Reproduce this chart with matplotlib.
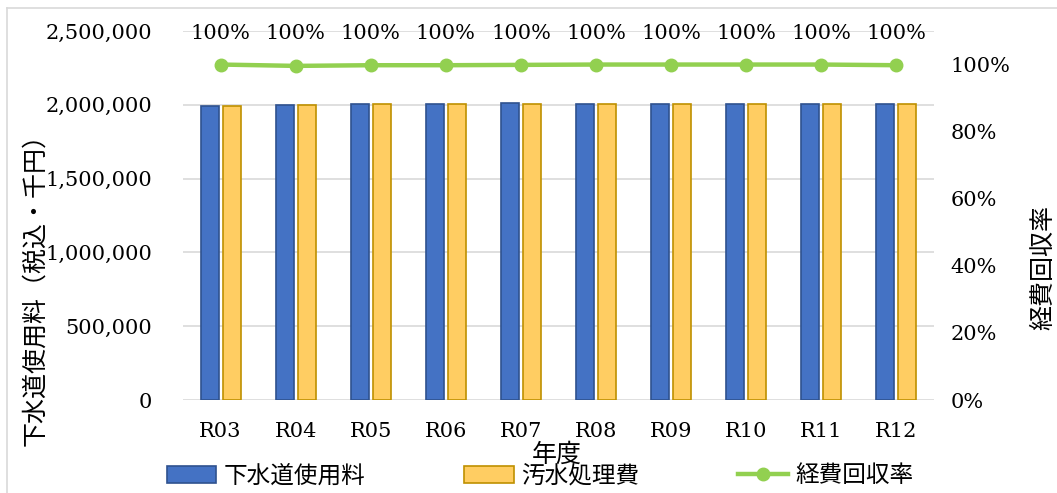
import numpy as np
import matplotlib
matplotlib.use("Agg")
import matplotlib.pyplot as plt
from matplotlib.lines import Line2D
from matplotlib.ticker import FuncFormatter

plt.rcParams['font.family'] = ['DejaVu Serif', 'Noto Sans CJK JP']

years = ['R03', 'R04', 'R05', 'R06', 'R07', 'R08', 'R09', 'R10', 'R11', 'R12']
fee = [1993000, 2000000, 2003000, 2005000, 2010000, 2008000, 2008000, 2008000, 2008000, 2008000]
cost = [1990000, 2000000, 2005000, 2008000, 2008000, 2008000, 2008000, 2008000, 2008000, 2008000]
rate = [1.000, 0.996, 0.998, 0.998, 0.999, 1.000, 1.000, 1.000, 1.000, 0.998]

blue = '#4472C4'
orange = '#FFCD62'
green = '#92D050'
grid = '#D9D9D9'

fig = plt.figure(figsize=(10.57, 4.93), dpi=100)
ax = fig.add_axes([183 / 1057, 1 - 400 / 493, 751 / 1057, 369 / 493])
x = np.arange(len(years))
w = 0.24
off = 0.146

ax.bar(x - off, fee, w, color=blue, edgecolor='#2F528F', linewidth=1.2, zorder=3)
ax.bar(x + off, cost, w, color=orange, edgecolor='#BF9000', linewidth=1.2, zorder=3)

ax.set_xlim(-0.5, len(years) - 0.5)
ax.set_ylim(0, 2500000)
ax.set_yticks(np.arange(0, 2500001, 500000))
ax.yaxis.set_major_formatter(FuncFormatter(lambda v, p: f'{int(v):,}'))
ax.set_xticks(x)
ax.set_xticklabels(years)
ax.grid(axis='y', color=grid, linewidth=1.2, zorder=0)
ax.set_axisbelow(True)
for s in ax.spines.values():
    s.set_visible(False)
ax.tick_params(axis='both', length=0, labelsize=15)
ax.tick_params(axis='y', pad=22)
ax.tick_params(axis='x', pad=16)

ax2 = ax.twinx()
ax2.plot(x, rate, color=green, linewidth=3.2, marker='o', markersize=9, zorder=4)
ax2.set_ylim(0, 1.1)
ax2.set_yticks(np.arange(0, 1.01, 0.2))
ax2.yaxis.set_major_formatter(FuncFormatter(lambda v, p: f'{v:.0%}'))
for s in ax2.spines.values():
    s.set_visible(False)
ax2.tick_params(axis='y', length=0, labelsize=15, pad=12)

# rate labels sit in a row on the top gridline
for xi, r in zip(x, rate):
    ax2.annotate(f'{r:.0%}', (xi, 1.094), ha='center', va='center', fontsize=15,
                 annotation_clip=False)

fig.text(35 / 1057, 1 - 283 / 493, '下水道使用料（税込・千円）', rotation=90,
         ha='center', va='center', fontsize=18)
fig.text(1044 / 1057, 1 - 267 / 493, '経費回収率', rotation=90,
         ha='center', va='center', fontsize=18)
fig.text(557 / 1057, 1 - 455 / 493, '年度', ha='center', va='center', fontsize=18)

handles = [
    plt.Rectangle((0, 0), 1, 1, facecolor=blue, edgecolor='#2F528F', linewidth=1.2),
    plt.Rectangle((0, 0), 1, 1, facecolor=orange, edgecolor='#BF9000', linewidth=1.2),
    Line2D([], [], color=green, linewidth=3.2, marker='o', markersize=9),
]
fig.legend(handles, ['下水道使用料', '汚水処理費', '経費回収率'], loc='center',
           bbox_to_anchor=(540 / 1057, 1 - 476 / 493), ncol=3, frameon=False,
           fontsize=17, handlelength=2.1, handleheight=0.75, columnspacing=4.2,
           handletextpad=0.3)

# chart frame (top and left edges)
fig.add_artist(Line2D([7 / 1057, 1], [1 - 8 / 493, 1 - 8 / 493], color=grid, linewidth=1.2))
fig.add_artist(Line2D([7 / 1057, 7 / 1057], [0, 1 - 8 / 493], color=grid, linewidth=1.2))

fig.savefig('out.png', dpi=100)
